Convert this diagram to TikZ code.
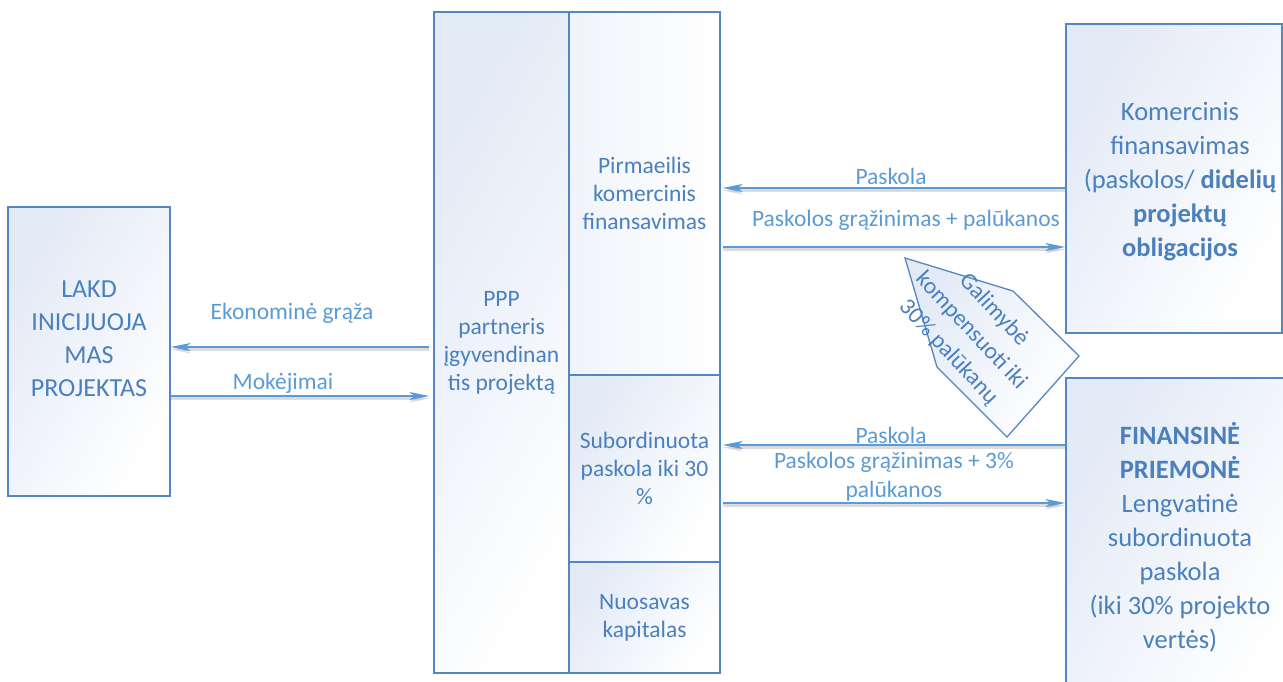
\documentclass[tikz,border=0pt]{standalone}
\usepackage{fontspec}
\setmainfont{Carlito}
\usetikzlibrary{arrows.meta}
\definecolor{bordercol}{RGB}{84,134,194}
\definecolor{textcol}{RGB}{74,128,190}
\definecolor{labelcol}{RGB}{91,155,213}
\definecolor{arrowcol}{RGB}{91,155,213}
\definecolor{fillA}{RGB}{226,234,246}
\definecolor{fillB}{RGB}{240,244,250}
\newcommand{\midf}{\fontsize{23.5}{28}\selectfont}
\newcommand{\bigf}{\fontsize{26}{33}\selectfont}
\newcommand{\rightf}{\fontsize{26.5}{34}\selectfont}
\begin{document}
\begin{tikzpicture}[x=1pt,y=-1pt,
  box/.style={draw=bordercol, line width=1.3pt, inner sep=0pt,
    left color=fillA, right color=white, shading angle=60},
  boxtext/.style={text=textcol, align=center, inner sep=0pt},
  lbl/.style={text=labelcol, align=center, inner sep=0pt, font=\midf},
  arr/.style={draw=arrowcol, line width=1.8pt,
    -{Stealth[length=20pt,width=8pt,inset=5pt]},
    preaction={draw=black!30, line width=2.6pt, opacity=0.45,
      transform canvas={yshift=-2.5pt}, -{Stealth[length=20pt,width=8pt,inset=5pt]}}}
]
\useasboundingbox (0,0) rectangle (1283,682);

% boxes
\node[box, minimum width=162pt, minimum height=289pt] (lakd) at (89,351.5) {};
\node[boxtext, font=\bigf] (lakdt) at (89,339) {LAKD\\INICIJUOJA\\MAS\\PROJEKTAS};

\node[box, minimum width=135pt, minimum height=661pt, boxtext, font=\midf] (ppp) at (501.5,342.5)
  {PPP\\partneris\\įgyvendinan\\tis projektą};

\node[box, left color=fillB, minimum width=151pt, minimum height=363pt, boxtext, font=\midf] (c1) at (644.5,193.5)
  {Pirmaeilis\\komercinis\\finansavimas};
\node[box, minimum width=151pt, minimum height=187pt, boxtext, font=\midf] (c2) at (644.5,468.5)
  {Subordinuota\\paskola iki 30\\\%};
\node[box, minimum width=151pt, minimum height=111pt, boxtext, font=\midf] (c3) at (644.5,617.5)
  {Nuosavas\\kapitalas};

\node[box, minimum width=216pt, minimum height=309pt] (kom) at (1174,178.5) {};
\node[boxtext, font=\rightf] (komt) at (1180,182)
  {Komercinis\\finansavimas\\(paskolos/ \textbf{didelių}\\\textbf{projektų}\\\textbf{obligacijos}};

\node[box, minimum width=224pt, minimum height=340pt] (fin) at (1178,548) {};
\node[boxtext, font=\rightf] (fint) at (1180,537)
  {\textbf{FINANSINĖ}\\\textbf{PRIEMONĖ}\\Lengvatinė\\subordinuota\\paskola\\(iki 30\% projekto\\vertės)};

% pentagon arrow
\draw[draw=bordercol, line width=1.3pt, left color=fillA, right color=white, shading angle=60]
  (905,258) -- (1013,291) -- (1079,356) -- (1007,437) -- (937,367) -- cycle;
\node[boxtext, font=\fontsize{23.5}{31}\selectfont, rotate=-47] (pentt) at (971,331)
  {Galimybė\\kompensuoti iki\\30\% palūkanų};

% arrows left
\draw[arr, shorten <=4pt] (ppp.west |- 0,347) -- (lakd.east |- 0,347);
\draw[arr, shorten >=4pt] (lakd.east |- 0,396) -- (ppp.west |- 0,396);
\node[lbl] (l1) at (292,313) {Ekonominė grąža};
\node[lbl] (l2) at (283,383) {Mokėjimai};

% arrows right
\draw[arr, shorten >=2pt] (kom.west |- 0,188) -- (c1.east |- 0,188);
\draw[arr, shorten <=2pt] (c1.east |- 0,247) -- (kom.west |- 0,247);
\draw[arr, shorten >=2pt] (fin.west |- 0,445) -- (c2.east |- 0,445);
\draw[arr, shorten <=2pt] (c2.east |- 0,503) -- (fin.west |- 0,503);
\node[lbl] (l3) at (891,176) {Paskola};
\node[lbl] (l4) at (906,220) {Paskolos grąžinimas + palūkanos};
\node[lbl] (l5) at (891,435) {Paskola};
\node[lbl, font=\fontsize{23.5}{29}\selectfont] (l6) at (894,477) {Paskolos grąžinimas + 3\%\\palūkanos};
\end{tikzpicture}
\end{document}
